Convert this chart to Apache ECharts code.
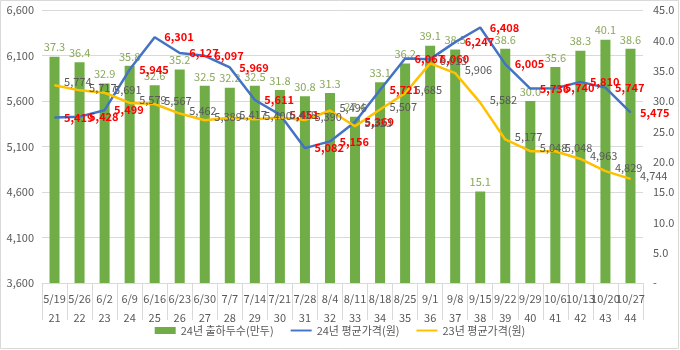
<!DOCTYPE html>
<html>
<head>
<meta charset="utf-8">
<script src="https://cdn.jsdelivr.net/npm/echarts@6/dist/echarts.min.js"></script>
<style>
html,body{margin:0;padding:0;background:#fff;}
#chart{width:680px;height:350px;}
</style>
</head>
<body>
<div id="chart"></div>
<script>
var dates = ['5/19','5/26','6/2','6/9','6/16','6/23','6/30','7/7','7/14','7/21','7/28','8/4','8/11','8/18','8/25','9/1','9/8','9/15','9/22','9/29','10/6','10/13','10/20','10/27'];
var weeks = ['21','22','23','24','25','26','27','28','29','30','31','32','33','34','35','36','37','38','39','40','41','42','43','44'];
var shipments24 = [37.3,36.4,32.9,35.8,32.6,35.2,32.5,32.2,32.5,31.8,30.8,31.3,27.4,33.1,36.2,39.1,38.5,15.1,38.6,30.0,35.6,38.3,40.1,38.6];
var price24 = [5419,5428,5499,5945,6301,6127,6097,5969,5611,5451,5082,5156,5369,5721,6067,6060,6247,6408,6005,5736,5740,5810,5747,5475];
var price23 = [5774,5717,5691,5579,5567,5462,5389,5417,5400,5418,5390,5496,5323,5507,5685,6013,5906,5582,5177,5048,5048,4963,4829,4744];
var seriesNames = ['24년 출하두수(만두)','24년 평균가격(원)','23년 평균가격(원)'];

var categories = dates.map(function(d,i){ return d + '\n' + weeks[i]; });
var font = "'Noto Sans CJK KR', 'Noto Sans', sans-serif";
var fmtComma = function(v){ return Number(v).toLocaleString('en-US'); };

var chart = echarts.init(document.getElementById('chart'), null, {renderer:'canvas'});
chart.setOption({
  animation:false,
  backgroundColor:'#fff',
  textStyle:{fontFamily:font},
  graphic:[{type:'rect',shape:{x:0.5,y:0.5,width:678,height:348},style:{fill:'none',stroke:'#d9d9d9',lineWidth:1},silent:true}],
  grid:{left:42,right:37,top:10,bottom:67},
  legend:{
    bottom:9, left:'center', itemGap:17, itemWidth:21, itemHeight:7,
    textStyle:{color:'#595959',fontSize:11,fontFamily:font},
    data:[
      {name:seriesNames[0],icon:'rect'},
      {name:seriesNames[1],icon:'path://M0,0 L22,0 L22,2 L0,2 Z'},
      {name:seriesNames[2],icon:'path://M0,0 L22,0 L22,2 L0,2 Z'}
    ]
  },
  xAxis:{
    type:'category', data:categories, boundaryGap:true,
    axisLine:{lineStyle:{color:'#d9d9d9'}},
    axisTick:{show:true,length:37,interval:0,lineStyle:{color:'#d9d9d9'}},
    axisLabel:{interval:0,color:'#595959',fontSize:11,lineHeight:19,margin:6,fontFamily:font}
  },
  yAxis:[
    {type:'value',min:3600,max:6600,interval:500,
     axisLabel:{color:'#595959',fontSize:11,formatter:fmtComma,margin:8,fontFamily:font},
     splitLine:{lineStyle:{color:'#d9d9d9'}},axisLine:{show:false},axisTick:{show:false}},
    {type:'value',min:0,max:45,interval:5,
     axisLabel:{color:'#595959',fontSize:11,margin:10,fontFamily:font,
       formatter:function(v){ return v===0 ? '-' : v.toFixed(1); }},
     splitLine:{show:false},axisLine:{show:false},axisTick:{show:false}}
  ],
  series:[
    {name:seriesNames[0],type:'bar',yAxisIndex:1,data:shipments24,barWidth:'40%',
     itemStyle:{color:'#70ad47'},
     label:{show:true,position:'top',distance:4,color:'#8aa85c',fontSize:11,fontFamily:font,
       formatter:function(p){return p.value.toFixed(1);}}},
    {name:seriesNames[1],type:'line',yAxisIndex:0,data:price24,
     symbol:'circle',symbolSize:1,itemStyle:{color:'#4472c4'},
     lineStyle:{color:'#4472c4',width:2.5},
     label:{show:true,position:'right',distance:9,color:'#ff0000',fontWeight:'bold',fontSize:11,fontFamily:font,
       formatter:function(p){return fmtComma(p.value);}}},
    {name:seriesNames[2],type:'line',yAxisIndex:0,data:price23,
     symbol:'circle',symbolSize:1,itemStyle:{color:'#ffc000'},
     lineStyle:{color:'#ffc000',width:2.5},
     label:{show:true,position:'right',distance:9,offset:[0,-3],color:'#595959',fontSize:11,fontFamily:font,
       formatter:function(p){return fmtComma(p.value);}}}
  ]
});
</script>
</body>
</html>
